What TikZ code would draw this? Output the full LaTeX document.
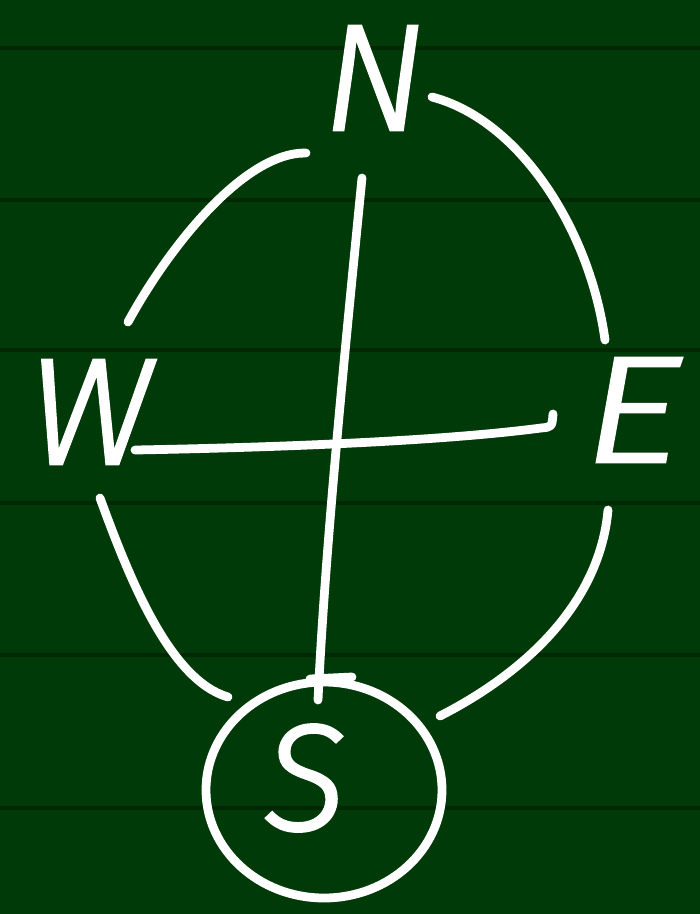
\documentclass[tikz,border=0pt]{standalone}
\usepackage{fontspec}
\setmainfont{Fira Sans}[ItalicFont=* Light Italic, ItalicFeatures={FakeBold=2}]
\usetikzlibrary{positioning}
\definecolor{board}{HTML}{013A09}
\definecolor{boardline}{HTML}{012705}
\tikzset{every picture/.style={line width=0.75pt}}
\tikzset{
  chalk/.style={white, line width=5pt, line cap=round, line join=round},
  letter/.style={white, font=\fontsize{86}{86}\selectfont\itshape, inner sep=0pt}
}

\begin{document}
\begin{tikzpicture}[x=0.02cm,y=-0.02cm]
    % === Board ===
    \fill[board] (0,0) rectangle (700,914);
    \useasboundingbox (0,0) rectangle (700,914);
    \foreach \y in {48,200,350,503,655,808} {
        \draw[boardline,line width=2pt] (0,\y) -- (700,\y);
    }

    % === Letters ===
    \node[letter] (n) at (374,78) {N};
    \node[letter] (w) at (90,412) {W};
    \node[letter,xscale=1.25] (e) at (632,410) {E};
    \node[letter] (s) at (305,778) {S};

    % === Axes ===
    \coordinate (top) at (362,178);
    \coordinate (bottom) at (318,700);
    \coordinate (left) at (135,450);
    \coordinate (right) at (541,428);
    \draw[chalk] (top) .. controls (345,350) and (325,550) .. (bottom);
    \draw[chalk] (310,679) -- (352,677); % crossbar
    \draw[chalk] (left) .. controls (300,447) and (450,440) .. (right)
        .. controls (552,427) .. (553,414); % hook

    % === Ellipse arcs ===
    \draw[chalk] (128,322) .. controls (170,245) and (245,152) .. (306,153);
    \draw[chalk] (432,97) .. controls (520,120) and (590,230) .. (605,340);
    \draw[chalk] (608,510) .. controls (600,600) and (530,670) .. (440,716);
    \draw[chalk] (100,498) .. controls (130,580) and (170,680) .. (228,697);

    % === South ring ===
    \draw[chalk] (324,790) ellipse (118 and 108);
\end{tikzpicture}
\end{document}
